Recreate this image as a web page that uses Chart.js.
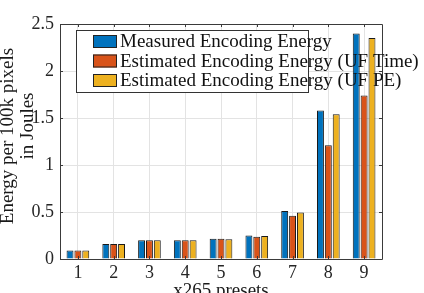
<!DOCTYPE html>
<html>
<head>
<meta charset="utf-8">
<title>x265 presets energy</title>
<script src="https://cdn.jsdelivr.net/npm/chart.js"></script>
<style>
  body { margin: 0; background: #fff; }
  #wrap { width: 424px; height: 293px; position: relative; }
</style>
</head>
<body>
<div id="wrap"><canvas id="myChart"></canvas></div>
<script>
    // data
    var presets = ['1', '2', '3', '4', '5', '6', '7', '8', '9'];
    var measured = [0.09, 0.16, 0.20, 0.20, 0.215, 0.25, 0.51, 1.58, 2.40];
    var estTime  = [0.09, 0.16, 0.20, 0.20, 0.215, 0.237, 0.46, 1.21, 1.74];
    var estPE    = [0.09, 0.16, 0.20, 0.20, 0.21, 0.244, 0.495, 1.54, 2.35];
    var seriesNames = ['Measured Encoding Energy', 'Estimated Encoding Energy (UF Time)', 'Estimated Encoding Energy (UF PE)'];
    var seriesColors = ['#0072BD', '#D95319', '#EDB120'];
    var yTicks = [0, 0.5, 1, 1.5, 2, 2.5];

    var serif = "'Liberation Serif', 'DejaVu Serif', serif";
    var axisColor = '#3a3a3a';

    // box, inward ticks, axis titles and legend drawn by hand (matlab look)
    var matlabBits = {
        id: 'matlabBits',
        afterDraw: function (chart) {
            var c = chart.ctx, a = chart.chartArea;
            var xs = chart.scales.x, ys = chart.scales.y;
            c.save();
            c.strokeStyle = axisColor;
            c.lineWidth = 1;
            c.beginPath();
            c.rect(Math.round(a.left) + 0.5, Math.round(a.top) + 0.5, Math.round(a.right - a.left), Math.round(a.bottom - a.top));
            c.stroke();
            // little ticks pointing inward
            c.beginPath();
            for (var i = 0; i < presets.length; i++) {
                var px = Math.round(xs.getPixelForValue(i)) + 0.5;
                c.moveTo(px, a.bottom); c.lineTo(px, a.bottom - 3);
                c.moveTo(px, a.top); c.lineTo(px, a.top + 3);
            }
            for (var j = 0; j < yTicks.length; j++) {
                var py = Math.round(ys.getPixelForValue(yTicks[j])) + 0.5;
                c.moveTo(a.left, py); c.lineTo(a.left + 3, py);
                c.moveTo(a.right, py); c.lineTo(a.right - 3, py);
            }
            c.stroke();

            // axis titles
            c.fillStyle = '#1a1a1a';
            c.font = '19px ' + serif;
            c.textAlign = 'center';
            c.textBaseline = 'middle';
            c.fillText('x265 presets', (a.left + a.right) / 2, 291);
            c.save();
            c.translate(8, 136);
            c.rotate(-Math.PI / 2);
            c.fillText('Energy per 100k pixels', 0, 0);
            c.fillText('in Joules', 10, 20);
            c.restore();

            // legend
            c.fillStyle = '#fff';
            c.fillRect(76, 30, 232, 62);
            c.strokeStyle = '#333';
            c.strokeRect(76.5, 30.5, 232, 62);
            var rows = [41.5, 61, 80.5];
            c.textAlign = 'left';
            for (var k = 0; k < seriesNames.length; k++) {
                c.fillStyle = seriesColors[k];
                c.fillRect(93, rows[k] - 6.5, 24, 13);
                c.strokeStyle = '#222';
                c.strokeRect(93.5, rows[k] - 6, 23, 12);
                c.fillStyle = '#111';
                c.fillText(seriesNames[k], 120, rows[k] + 1);
            }
            c.restore();
        }
    };

    var datasets = [measured, estTime, estPE].map(function (vals, i) {
        return {
            label: seriesNames[i],
            data: vals,
            backgroundColor: seriesColors[i],
            borderColor: '#1a1a1a',
            borderWidth: 1,
            barPercentage: 0.88,
            categoryPercentage: 0.66
        };
    });

    var chart = new Chart(document.getElementById('myChart').getContext('2d'), {
        type: 'bar',
        data: { labels: presets, datasets: datasets },
        options: {
            responsive: true,
            maintainAspectRatio: false,
            animation: false,
            layout: { padding: { left: 0, top: 24, right: 42, bottom: 0 } },
            plugins: { legend: { display: false }, tooltip: { enabled: false } },
            scales: {
                x: {
                    grid: { color: '#e3e3e3', offset: false, drawTicks: false },
                    border: { display: false },
                    ticks: { color: '#262626', font: { family: serif, size: 18 }, padding: 3 },
                    afterFit: function (s) { s.height = 34; }
                },
                y: {
                    min: 0,
                    max: 2.5,
                    grid: { color: '#e3e3e3', drawTicks: false },
                    border: { display: false },
                    afterBuildTicks: function (s) { s.ticks = yTicks.map(function (v) { return { value: v }; }); },
                    ticks: {
                        color: '#262626',
                        font: { family: serif, size: 18 },
                        padding: 6,
                        callback: function (v) { return String(v); }
                    },
                    afterFit: function (s) { s.width = 60; }
                }
            }
        },
        plugins: [matlabBits]
    });
</script>
</body>
</html>
